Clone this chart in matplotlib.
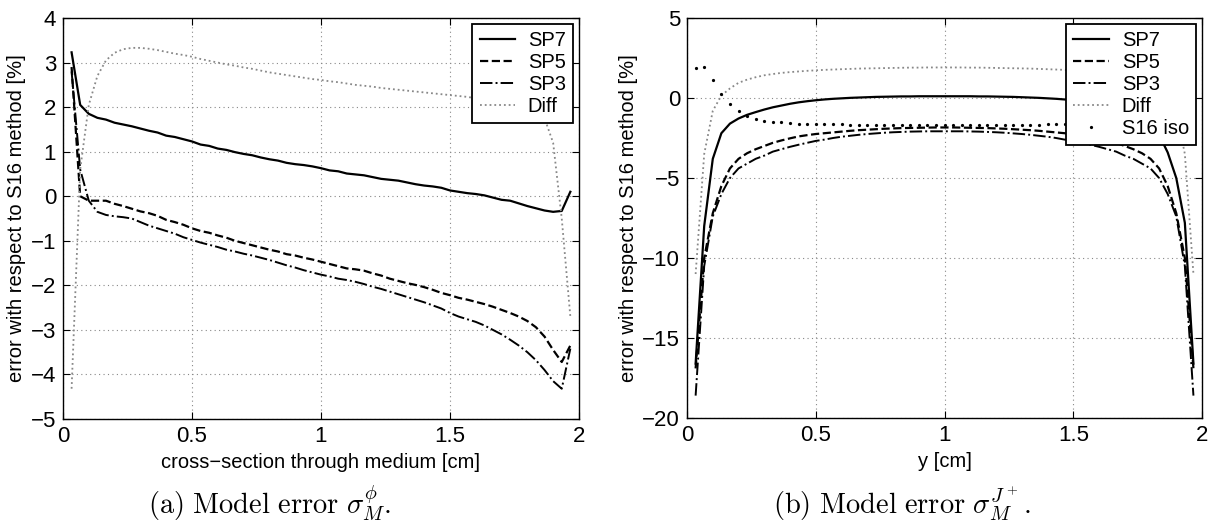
import numpy as np
import matplotlib
matplotlib.use("Agg")
import matplotlib.pyplot as plt

plt.rcParams['font.family'] = ['Liberation Sans', 'DejaVu Sans']
plt.rcParams['mathtext.fontset'] = 'cm'

# sample positions (cm), same grid in both panels
x_grid = np.arange(1, 60) / 30.0

# (a) model error sigma_M^phi
sp7_a = [3.23, 2.05, 1.85, 1.76, 1.72, 1.65, 1.61, 1.57, 1.52, 1.47,
         1.43, 1.36, 1.33, 1.28, 1.23, 1.16, 1.13, 1.07, 1.04, 0.99,
         0.95, 0.92, 0.87, 0.83, 0.80, 0.75, 0.72, 0.70, 0.67, 0.63,
         0.58, 0.56, 0.51, 0.49, 0.47, 0.43, 0.39, 0.37, 0.35, 0.31,
         0.27, 0.24, 0.22, 0.19, 0.13, 0.10, 0.07, 0.05, 0.02, -0.03,
         -0.08, -0.10, -0.16, -0.22, -0.27, -0.32, -0.35, -0.33, 0.10]
sp5_a = [2.90, 0.00, -0.10, -0.10, -0.10, -0.17, -0.22, -0.28, -0.34, -0.38,
         -0.44, -0.53, -0.58, -0.64, -0.72, -0.78, -0.82, -0.88, -0.93, -1.00,
         -1.05, -1.10, -1.15, -1.20, -1.24, -1.30, -1.33, -1.38, -1.42, -1.47,
         -1.52, -1.57, -1.62, -1.64, -1.67, -1.73, -1.78, -1.85, -1.90, -1.95,
         -1.99, -2.04, -2.10, -2.17, -2.22, -2.28, -2.32, -2.37, -2.42, -2.48,
         -2.55, -2.62, -2.70, -2.80, -2.94, -3.15, -3.45, -3.72, -3.35]
sp3_a = [2.80, 0.60, -0.10, -0.35, -0.42, -0.45, -0.47, -0.50, -0.58, -0.66,
         -0.72, -0.78, -0.84, -0.92, -0.98, -1.04, -1.09, -1.14, -1.20, -1.24,
         -1.29, -1.33, -1.38, -1.43, -1.49, -1.55, -1.60, -1.66, -1.71, -1.76,
         -1.80, -1.85, -1.88, -1.92, -1.97, -2.03, -2.08, -2.14, -2.20, -2.26,
         -2.32, -2.38, -2.45, -2.52, -2.62, -2.70, -2.76, -2.82, -2.90, -3.00,
         -3.10, -3.22, -3.35, -3.50, -3.68, -3.90, -4.15, -4.32, -3.42]
diff_a = [-4.32, 0.60, 2.05, 2.70, 3.05, 3.22, 3.30, 3.33, 3.33, 3.31,
          3.28, 3.24, 3.20, 3.17, 3.13, 3.08, 3.04, 3.00, 2.96, 2.93,
          2.89, 2.86, 2.82, 2.78, 2.75, 2.72, 2.69, 2.66, 2.63, 2.61,
          2.58, 2.56, 2.53, 2.50, 2.48, 2.46, 2.43, 2.41, 2.39, 2.37,
          2.35, 2.33, 2.31, 2.29, 2.27, 2.25, 2.23, 2.20, 2.17, 2.14,
          2.10, 2.06, 2.00, 1.95, 1.90, 1.75, 1.20, -0.50, -2.70]

# (b) model error sigma_M^{J+}
sp7_b = [-16.6, -8.0, -3.8, -2.2, -1.6, -1.28, -1.05, -0.88, -0.72, -0.58,
         -0.47, -0.36, -0.27, -0.20, -0.14, -0.09, -0.05, -0.02, 0.01, 0.03,
         0.05, 0.07, 0.08, 0.09, 0.10, 0.10, 0.11, 0.11, 0.11, 0.11,
         0.11, 0.11, 0.11, 0.10, 0.10, 0.09, 0.08, 0.07, 0.05, 0.03,
         0.01, -0.02, -0.05, -0.09, -0.14, -0.20, -0.27, -0.36, -0.47, -0.58,
         -0.72, -0.88, -1.05, -1.35, -2.3, -3.4, -5.0, -7.8, -16.6]
sp5_b = [-16.9, -10.0, -7.2, -5.5, -4.4, -3.8, -3.45, -3.2, -3.0, -2.8,
         -2.65, -2.52, -2.40, -2.32, -2.25, -2.20, -2.15, -2.10, -2.05, -2.01,
         -1.98, -1.95, -1.92, -1.90, -1.88, -1.87, -1.86, -1.85, -1.84, -1.84,
         -1.84, -1.85, -1.86, -1.87, -1.88, -1.90, -1.92, -1.95, -1.98, -2.01,
         -2.05, -2.10, -2.15, -2.20, -2.25, -2.32, -2.40, -2.52, -2.65, -2.80,
         -3.0, -3.2, -3.45, -3.8, -4.4, -5.5, -7.2, -10.0, -16.9]
sp3_b = [-18.6, -10.5, -7.4, -6.0, -5.0, -4.4, -4.1, -3.8, -3.6, -3.35,
         -3.2, -3.05, -2.92, -2.80, -2.68, -2.60, -2.50, -2.42, -2.36, -2.30,
         -2.25, -2.21, -2.17, -2.14, -2.12, -2.10, -2.09, -2.08, -2.08, -2.08,
         -2.08, -2.08, -2.09, -2.10, -2.12, -2.14, -2.17, -2.21, -2.25, -2.30,
         -2.36, -2.42, -2.50, -2.60, -2.68, -2.80, -2.92, -3.05, -3.2, -3.35,
         -3.6, -3.8, -4.1, -4.4, -5.0, -6.0, -7.4, -10.5, -18.6]
diff_b = [-11.0, -3.5, -0.8, 0.15, 0.6, 0.95, 1.15, 1.30, 1.42, 1.50,
          1.57, 1.62, 1.66, 1.70, 1.73, 1.76, 1.78, 1.80, 1.82, 1.84,
          1.85, 1.86, 1.87, 1.88, 1.89, 1.90, 1.90, 1.91, 1.91, 1.91,
          1.91, 1.91, 1.90, 1.90, 1.89, 1.88, 1.87, 1.86, 1.85, 1.84,
          1.82, 1.80, 1.78, 1.76, 1.73, 1.70, 1.66, 1.62, 1.57, 1.50,
          1.42, 1.30, 1.15, 0.95, 0.6, 0.15, -0.8, -3.5, -11.0]
s16iso_b = [1.85, 1.95, 1.12, 0.28, -0.40, -0.82, -1.12, -1.30, -1.41, -1.48,
            -1.53, -1.57, -1.60, -1.62, -1.63, -1.64, -1.65, -1.65, -1.66, -1.66,
            -1.66, -1.67, -1.67, -1.67, -1.67, -1.67, -1.67, -1.67, -1.67, -1.67,
            -1.67, -1.67, -1.67, -1.67, -1.67, -1.67, -1.67, -1.67, -1.66, -1.66,
            -1.66, -1.65, -1.65, -1.64, -1.63, -1.62, -1.60, -1.57, -1.53, -1.48,
            -1.41, -1.30, -1.12, -0.82, -0.40, 0.28, 1.12, 1.95, 1.85]


def style_axes(ax, ylim, yticks):
    ax.set_xlim(0, 2)
    ax.set_ylim(*ylim)
    ax.set_xticks([0, 0.5, 1, 1.5, 2])
    ax.set_xticklabels(['0', '0.5', '1', '1.5', '2'])
    ax.set_yticks(yticks)
    ax.set_yticklabels([str(t).replace('-', '\u2212') for t in yticks])
    ax.grid(True, linestyle=(0, (1, 3)), color='#888888', linewidth=0.8)
    ax.tick_params(direction='in', top=True, right=True, length=5,
                   labelsize=16, width=0.8, pad=5)
    for s in ax.spines.values():
        s.set_linewidth(1.0)
    ax.set_ylabel('error with respect to S16 method [%]', fontsize=14.5,
                  labelpad=3)


def add_legend(ax):
    leg = ax.legend(loc='upper right', fontsize=14.5, fancybox=False,
                    edgecolor='black', framealpha=1, handlelength=1.75,
                    handletextpad=0.65, borderaxespad=0.3, labelspacing=0.15,
                    borderpad=0.35)
    leg.get_frame().set_linewidth(1.3)


fig = plt.figure(figsize=(12.16, 5.30), dpi=100)
ax1 = fig.add_axes([0.0518, 0.2094, 0.4243, 0.7566])
ax2 = fig.add_axes([0.565, 0.2113, 0.4235, 0.7547])

ax1.plot(x_grid, sp7_a, 'k-', lw=1.6, label='SP7')
ax1.plot(x_grid, sp5_a, 'k--', lw=1.6, label='SP5')
ax1.plot(x_grid, sp3_a, 'k-.', lw=1.4, label='SP3')
ax1.plot(x_grid, diff_a, color='#888888', ls=':', lw=1.3, label='Diff')
style_axes(ax1, (-5, 4), list(range(-5, 5)))
ax1.set_xlabel('cross\u2212section through medium [cm]', fontsize=14.5)
add_legend(ax1)

ax2.plot(x_grid, sp7_b, 'k-', lw=1.6, label='SP7')
ax2.plot(x_grid, sp5_b, 'k--', lw=1.6, label='SP5')
ax2.plot(x_grid, sp3_b, 'k-.', lw=1.4, label='SP3')
ax2.plot(x_grid, diff_b, color='#888888', ls=':', lw=1.3, label='Diff')
ax2.plot(x_grid, s16iso_b, 'k.', ms=2.6, ls='none', label='S16 iso')
style_axes(ax2, (-20, 5), [-20, -15, -10, -5, 0, 5])
ax2.set_xlabel('y [cm]', fontsize=14.5)
add_legend(ax2)

fig.text(0.222, 0.05, r'$\mathrm{(a)\ Model\ error}\ \sigma_M^{\phi}.$',
         ha='center', va='center', fontsize=20.5)
fig.text(0.742, 0.05, r'$\mathrm{(b)\ Model\ error}\ \sigma_M^{J^+}.$',
         ha='center', va='center', fontsize=20.5)

fig.savefig('out.png', dpi=100)
